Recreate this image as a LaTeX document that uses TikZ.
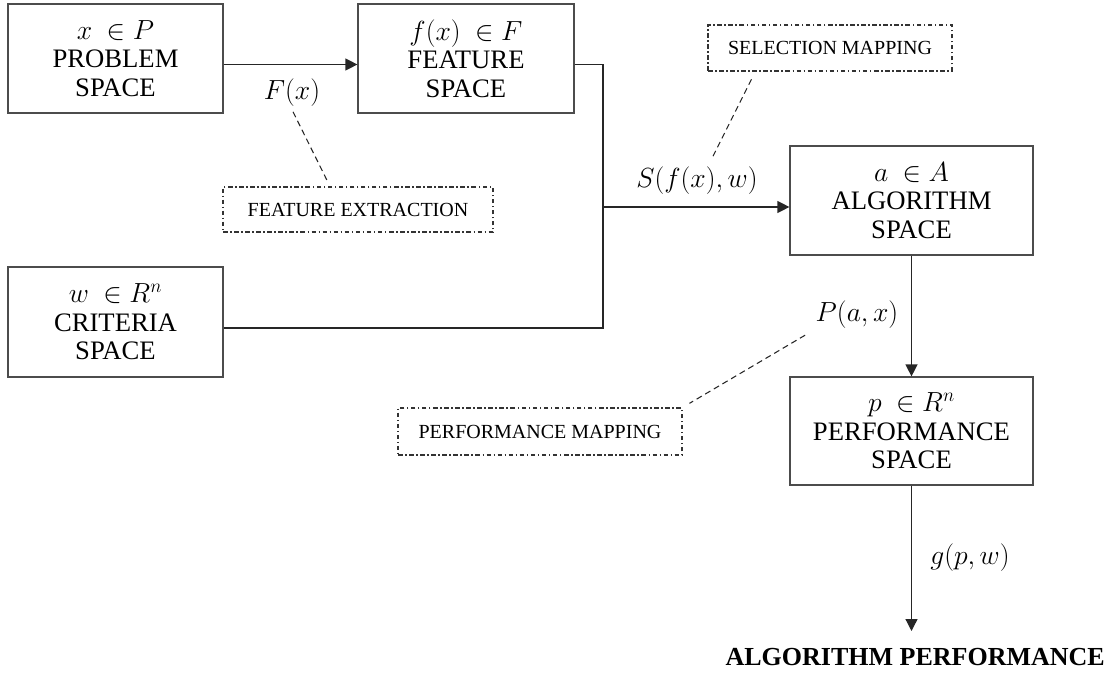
\documentclass[tikz,border=0pt]{standalone}
\usepackage{fontspec}
\setmainfont{Liberation Serif}
\newfontfamily\boxfont{Liberation Serif}
\usetikzlibrary{arrows.meta}
\begin{document}
\begin{tikzpicture}[x=0.75pt,y=-0.75pt,
  box/.style={draw=black!70, line width=0.9pt, align=center, inner sep=0pt,
    font=\boxfont\fontsize{20}{21.5}\selectfont},
  note/.style={draw=black!80, line width=0.9pt, inner sep=0pt,
    dash pattern=on 3.4pt off 1.9pt on 1.1pt off 1.9pt,
    font=\boxfont\fontsize{15}{18}\selectfont},
  lab/.style={font=\fontsize{20}{22}\selectfont, inner sep=0pt},
  wire/.style={line width=0.95pt, draw=black!85},
  arr/.style={wire, -{Triangle[length=9pt,width=9pt]}},
  lead/.style={line width=0.8pt, draw=black!85, dash pattern=on 4.5pt off 3pt},
]
\useasboundingbox (0,0) rectangle (1120,677);

% main boxes
\node[box, minimum width=161.25pt, minimum height=81.75pt] (prob) at (115.5,58.5)
  {$x\ \in P$\\PROBLEM\\SPACE};
\node[box, minimum width=162pt, minimum height=81.75pt] (feat) at (466,58.5)
  {$f(x)\ \in F$\\FEATURE\\SPACE};
\node[box, minimum width=161.25pt, minimum height=82.5pt] (crit) at (115.5,322)
  {$w\ \in R^n$\\CRITERIA\\SPACE};
\node[box, minimum width=182.25pt, minimum height=81.75pt] (algo) at (911.5,200.5)
  {$a\ \in A$\\ALGORITHM\\SPACE};
\node[box, minimum width=182.25pt, minimum height=81pt] (perf) at (911.5,431)
  {$p\ \in R^n$\\PERFORMANCE\\SPACE};

% annotation boxes
\node[note, minimum width=202.5pt, minimum height=33.75pt] (fe) at (358,209.5) {FEATURE EXTRACTION};
\node[note, minimum width=183pt, minimum height=34.5pt] (sm) at (830,48) {SELECTION MAPPING};
\node[note, minimum width=213pt, minimum height=35.25pt] (pm) at (540,431.5) {PERFORMANCE MAPPING};

% mapping labels
\node[lab] (fx) at (292,93) {$F(x)$};
\node[lab] (sfx) at (697,181) {$S(f(x),w)$};
\node[lab] (pax) at (857,315) {$P(a,x)$};
\node[lab] (gpw) at (970,558) {$g(p,w)$};

% output
\node[anchor=east, inner sep=0pt, font=\boxfont\bfseries\fontsize{19.5}{22}\selectfont] (out) at (1105,657)
  {ALGORITHM PERFORMANCE};

% connectors
\coordinate (j) at (603,207);
\coordinate (gend) at (911.5,631);
\draw[arr] ([yshift=-4.5pt]prob.east) -- ([yshift=-4.5pt]feat.west);
\draw[wire] ([yshift=-4.5pt]feat.east) -| (j);
\draw[wire] ([yshift=-4.5pt]crit.east) -| (j);
\draw[arr] (j) -- (algo.west |- j);
\draw[arr] (algo.south) -- (perf.north);
\draw[arr] (perf.south) -- (gend);

% leader lines
\draw[lead, shorten <=4pt, shorten >=5pt] ([xshift=-1pt]fx.south) -- ([xshift=-21pt]fe.north);
\draw[lead, shorten <=6.5pt, shorten >=9pt] ([xshift=-56pt]sm.south) -- ([xshift=8pt]sfx.north);
\draw[lead, shorten <=9pt, shorten >=6pt] (pax.south west) -- (pm.north east);
\end{tikzpicture}
\end{document}
